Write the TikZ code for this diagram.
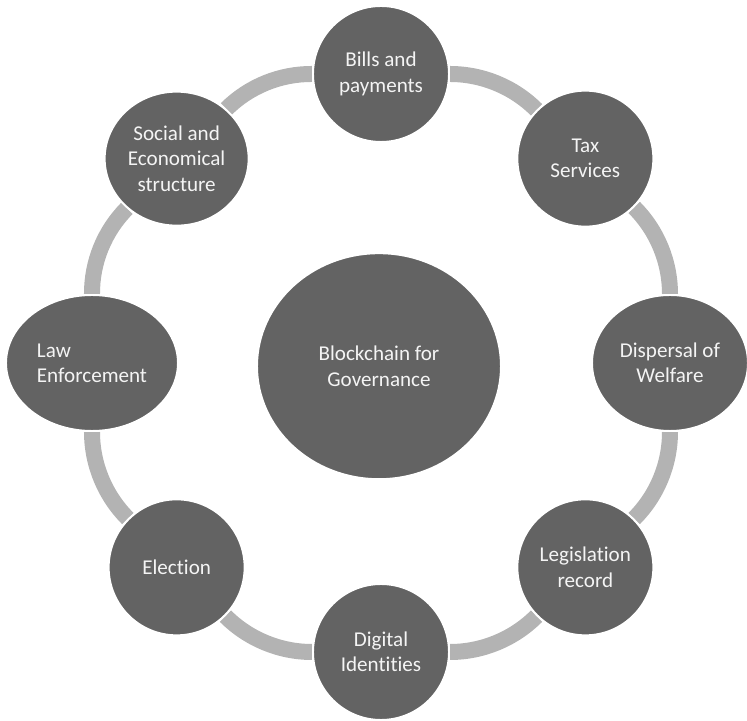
\documentclass[tikz,border=0pt]{standalone}
\usepackage{fontspec}
\setmainfont[Ligatures=NoCommon]{Carlito}
\usepackage{xcolor}
\definecolor{govfill}{HTML}{636363}
\definecolor{govring}{HTML}{B3B3B3}
\definecolor{govtext}{HTML}{F4F4F4}
\usepackage{tikz}
\usetikzlibrary{shapes.geometric,backgrounds}

\begin{document}
\begin{tikzpicture}[
  every node/.style={font=\fontsize{15}{18}\selectfont,text=govtext,align=center},
  govnode/.style={circle,fill=govfill,draw=white,line width=1.4pt,minimum size=3.4cm,inner sep=0pt},
  govoval/.style={ellipse,fill=govfill,draw=white,line width=1.4pt,inner sep=0pt},
  ringlink/.style={draw=govring,line width=0.4cm,bend left=22.5,looseness=0.885}]
\useasboundingbox (-9.525,-8.95) rectangle (9.15,9.075);
\node[govoval,minimum width=6.1cm,minimum height=5.65cm] (hub) at (-0.05,-0.08) {Blockchain for\\Governance};
\node[govnode] (bills) at (90:7.225) {Bills and\\payments};
\node[govnode] (tax) at (45:7.225) {Tax\\Services};
\node[govoval,minimum width=3.9cm,minimum height=3.4cm] (welfare) at (0:7.225) {Dispersal of\\Welfare};
\node[govnode] (legis) at (-45:7.225) {Legislation\\record};
\node[govnode] (digital) at (-90:7.225) {Digital\\Identities};
\node[govnode] (election) at (-135:7.225) {Election};
\node[govoval,minimum width=4.3cm,minimum height=3.4cm,align=left] (law) at (180:7.225) {Law\\Enforcement};
\node[govoval,minimum width=3.6cm,minimum height=3.35cm] (social) at (135:7.225) {Social and\\Economical\\structure};
\begin{scope}[on background layer]
\foreach \from/\to in {bills/tax,tax/welfare,welfare/legis,legis/digital,digital/election,election/law,law/social,social/bills}
  \draw[ringlink] (\from) to (\to);
\end{scope}
\end{tikzpicture}
\end{document}
